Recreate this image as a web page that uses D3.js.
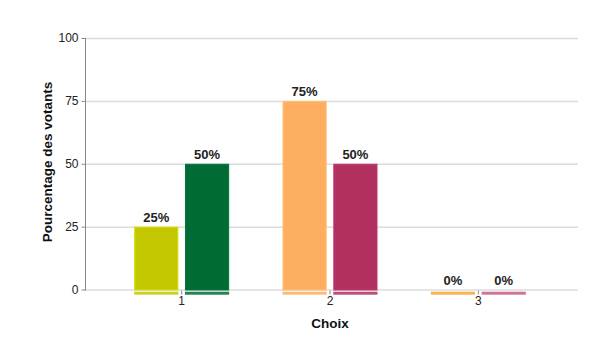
<!DOCTYPE html>
<html lang="fr">
<head>
<meta charset="utf-8">
<title>Choix</title>
<script src="https://cdnjs.cloudflare.com/ajax/libs/d3/7.8.5/d3.min.js"></script>
<style>
  body { margin: 0; background: #fff; }
  svg { font-family: "Liberation Sans", Arial, sans-serif; }
</style>
</head>
<body>
<script>
// data
var choix = ["1", "2", "3"];
var series = ["a", "b"];
var valeursA = [25, 75, 0];
var valeursB = [50, 50, 0];
var couleursA = ["#c4c800", "#fdae61", "#f5a833"];
var couleursB = ["#006b35", "#b03060", "#c85a88"];
var yTicks = [0, 25, 50, 75, 100];

var width = 605, height = 339;
var svg = d3.select("body").append("svg")
  .attr("width", width).attr("height", height);

var y = d3.scaleLinear().domain([0, 100]).range([289.5, 38]);
var x = d3.scaleBand().domain(choix).range([107.5, 552.5]);
var x1 = d3.scaleBand().domain(series).range([-47.5, 47.5]).paddingInner(0.13);

// grid
svg.append("g").selectAll("line")
  .data(yTicks)
  .join("line")
  .attr("x1", 85).attr("x2", 578)
  .attr("y1", d => y(d) + 0.5).attr("y2", d => y(d) + 0.5)
  .attr("stroke", "#dcdcdc").attr("stroke-width", 1.5);

// y axis
var yAxis = svg.append("g")
  .attr("transform", "translate(85.5,0)")
  .call(d3.axisLeft(y).tickValues(yTicks).tickSize(4).tickPadding(3));
yAxis.select(".domain").attr("stroke", "#888").attr("d", "M0," + y(100) + "V" + (y(0) + 1));
yAxis.selectAll(".tick line").attr("stroke", "#888");
yAxis.selectAll(".tick text").attr("font-size", 12).attr("fill", "#222")
  .attr("font-family", "Liberation Sans, Arial, sans-serif");

// build rows for bars
var rows = [];
choix.forEach(function(c, i) {
  rows.push({ choix: c, s: "a", v: valeursA[i], col: couleursA[i] });
  rows.push({ choix: c, s: "b", v: valeursB[i], col: couleursB[i] });
});

var base = y(0);

// bars
svg.append("g").selectAll("rect")
  .data(rows)
  .join("rect")
  .attr("x", d => x(d.choix) + x.bandwidth() / 2 + x1(d.s) + 0.5)
  .attr("width", x1.bandwidth() - 1)
  .attr("y", d => y(d.v) + 0.5)
  .attr("height", d => base - y(d.v))
  .attr("fill", d => d.col)
  .attr("stroke", d => d3.color(d.col).brighter(0.3))
  .attr("stroke-width", 1);

// strips under the baseline
svg.append("g").selectAll("rect")
  .data(rows)
  .join("rect")
  .attr("x", d => x(d.choix) + x.bandwidth() / 2 + x1(d.s))
  .attr("width", x1.bandwidth())
  .attr("y", base + 2.2)
  .attr("height", 3)
  .attr("fill", d => d.col)
  .attr("opacity", 0.85);

// x axis
var xAxis = svg.append("g")
  .attr("transform", "translate(0," + (base + 1) + ")")
  .call(d3.axisBottom(x).tickSize(4).tickPadding(2).tickSizeOuter(0));
xAxis.select(".domain").remove();
xAxis.selectAll(".tick line").attr("stroke", "#888");
xAxis.selectAll(".tick text").attr("font-size", 12).attr("fill", "#222")
  .attr("font-family", "Liberation Sans, Arial, sans-serif");

// value labels
svg.append("g").selectAll("text")
  .data(rows)
  .join("text")
  .attr("x", d => x(d.choix) + x.bandwidth() / 2 + x1(d.s) + x1.bandwidth() / 2)
  .attr("y", d => y(d.v) - 5)
  .attr("text-anchor", "middle")
  .attr("font-size", 13)
  .attr("font-weight", "bold")
  .attr("fill", "#222")
  .text(d => d.v + "%");

// titles
svg.append("text")
  .attr("x", x("2") + x.bandwidth() / 2).attr("y", 328)
  .attr("text-anchor", "middle")
  .attr("font-size", 13.5).attr("font-weight", "bold").attr("fill", "#111")
  .text("Choix");

svg.append("text")
  .attr("transform", "translate(52,162) rotate(-90)")
  .attr("text-anchor", "middle")
  .attr("font-size", 13.5).attr("font-weight", "bold").attr("fill", "#111")
  .text("Pourcentage des votants");
</script>
</body>
</html>
